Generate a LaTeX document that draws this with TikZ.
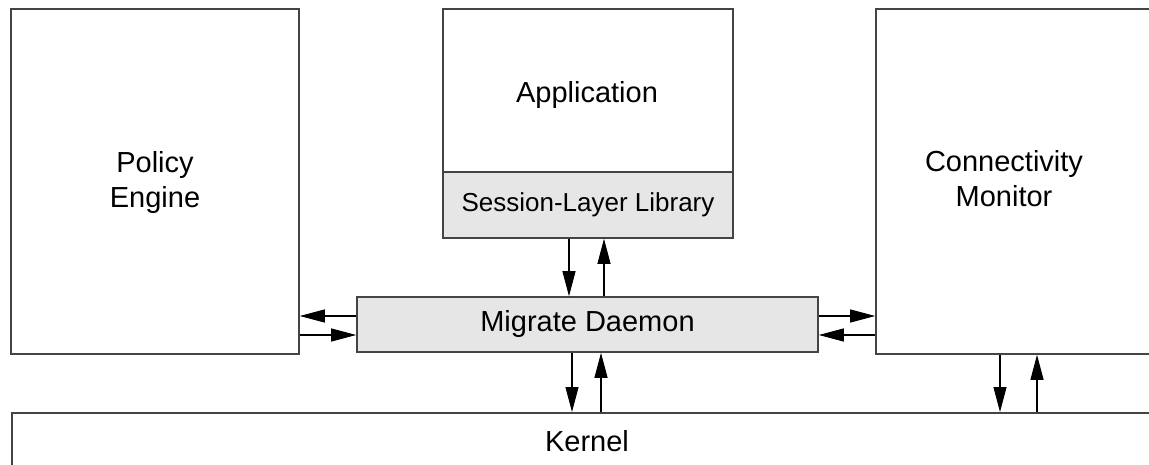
\documentclass[tikz,border=0pt]{standalone}
\usepackage{fontspec}
\setmainfont{Liberation Sans}
\usetikzlibrary{arrows.meta}
\definecolor{boxline}{HTML}{444444}
\definecolor{boxfill}{HTML}{E6E6E6}
\tikzset{
  box/.style={draw=boxline, line width=1.6pt, fill=white, inner sep=0pt, font=\fontsize{29}{35}\selectfont, align=center},
  graybox/.style={box, fill=boxfill},
  lbl/.style={inner sep=0pt, font=\fontsize{29}{35}\selectfont, align=center},
  arr/.style={line width=1.1pt, -{Triangle[length=25pt,width=13pt]}},
}
\begin{document}
\begin{tikzpicture}[x=1pt,y=-1pt]
\useasboundingbox (0,0) rectangle (1149,465);
\clip (0,0) rectangle (1149,465);
% boxes
\node[box, minimum width=288pt, minimum height=345pt] (pol) at (155,181.5) {};
\node[lbl] (poltext) at (155,183) {Policy\\Engine};
\node[box, minimum width=290pt, minimum height=229pt] (app) at (588,123.5) {};
\node[lbl] (apptext) at (587,95) {Application};
\node[graybox, minimum width=290pt, minimum height=66pt, font=\fontsize{26}{30}\selectfont] (sess) at (588,205) {Session-Layer Library};
\node[box, minimum width=290pt, minimum height=345pt] (mon) at (1021,181.5) {};
\node[lbl] (montext) at (1004,179) {Connectivity\\Monitor};
\node[graybox, minimum width=461pt, minimum height=55pt] (dm) at (587.5,324.5) {Migrate Daemon};
\node[box, minimum width=1170pt, minimum height=90pt, anchor=north west] (kern) at (11,412) {};
\node[lbl] (kerntext) at (587,441) {Kernel};
% connectors: session <-> daemon
\coordinate (s1) at ([xshift=-19pt]sess.south);
\coordinate (s2) at ([xshift=16pt]sess.south);
\draw[arr] (s1) -- (s1 |- dm.north);
\draw[arr] (s2 |- dm.north) -- (s2);
% daemon <-> kernel
\coordinate (d1) at ([xshift=-15.5pt]dm.south);
\coordinate (d2) at ([xshift=13.5pt]dm.south);
\draw[arr] (d1) -- (d1 |- kern.north);
\draw[arr] (d2 |- kern.north) -- (d2);
% monitor <-> kernel
\coordinate (m1) at (1000,0 |- mon.south);
\coordinate (m2) at (1037,0 |- mon.south);
\draw[arr] (m1) -- (m1 |- kern.north);
\draw[arr] (m2 |- kern.north) -- (m2);
% policy <-> daemon
\coordinate (p1) at ([yshift=8.5pt]dm.west);
\coordinate (p2) at ([yshift=-10.5pt]dm.west);
\draw[arr] (p1) -- (p1 -| pol.east);
\draw[arr] (p2 -| pol.east) -- (p2);
% daemon <-> monitor
\coordinate (q1) at ([yshift=8.5pt]dm.east);
\coordinate (q2) at ([yshift=-10.5pt]dm.east);
\draw[arr] (q1) -- (q1 -| mon.west);
\draw[arr] (q2 -| mon.west) -- (q2);
\end{tikzpicture}
\end{document}
